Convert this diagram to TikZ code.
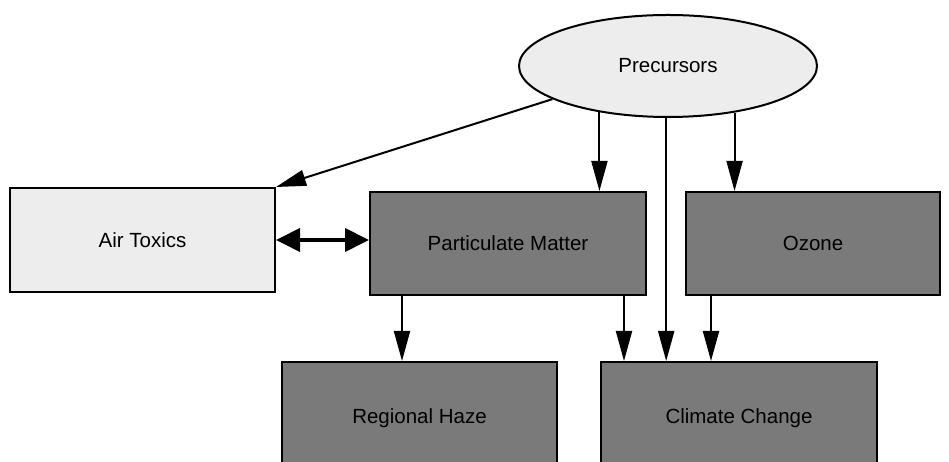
\documentclass[tikz,border=0pt]{standalone}
\usepackage{fontspec}
\setmainfont{Liberation Sans}
\usepackage{tikz}
\usetikzlibrary{shapes.geometric, arrows.meta}

\tikzset{
    lightbox/.style={draw, line width=2pt, fill=black!7, inner sep=0pt},
    darkbox/.style={draw, line width=2pt, fill=black!52, inner sep=0pt},
    arr/.style={line width=2pt, -{Triangle[length=30pt, width=16pt]}},
    dblarr/.style={line width=4pt, {Triangle[length=24pt, width=23pt]}-{Triangle[length=24pt, width=23pt]}}
}

\begin{document}
\begin{tikzpicture}[x=1pt, y=1pt, font=\fontsize{20.5}{23}\selectfont]

    % Frame
    \clip (0,0) rectangle (949,462);
    \useasboundingbox (0,0) rectangle (949,462);

    % Nodes
    \node[lightbox, ellipse, minimum width=298pt, minimum height=102pt] (prec) at (668,396) {Precursors};
    \node[lightbox, minimum width=265pt, minimum height=104pt] (tox) at (142.5,222) {Air Toxics};
    \node[darkbox, minimum width=276pt, minimum height=103pt] (pm) at (508,218.5) {Particulate Matter};
    \node[darkbox, minimum width=254pt, minimum height=103pt] (ozone) at (813,218.5) {Ozone};
    \node[darkbox, minimum width=275pt, minimum height=112pt] (haze) at (419.5,44) {Regional Haze};
    \node[darkbox, minimum width=276pt, minimum height=112pt] (climate) at (739,44) {Climate Change};

    % Arrows from Precursors
    \draw[arr] (prec.-164.5) -- (tox.north east);
    \draw[arr] (prec.-146.5) -- (prec.-146.5 |- pm.north);
    \draw[arr] (prec.-92) -- (prec.-92 |- climate.north);
    \draw[arr] (prec.-35.3) -- (prec.-35.3 |- ozone.north);

    % Two way link
    \draw[dblarr] (tox.east) -- (tox.east -| pm.west);

    % Arrows to the lower row
    \draw[arr] ([xshift=33pt]pm.south west) -- ([xshift=33pt]pm.south west |- haze.north);
    \draw[arr] ([xshift=-23pt]pm.south east) -- ([xshift=-23pt]pm.south east |- climate.north);
    \draw[arr] ([xshift=26pt]ozone.south west) -- ([xshift=26pt]ozone.south west |- climate.north);

\end{tikzpicture}
\end{document}
